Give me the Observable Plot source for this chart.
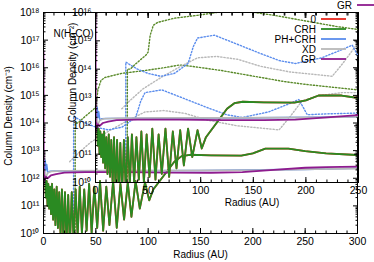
<!DOCTYPE html>
<html><head><meta charset="utf-8">
<script src="https://cdn.jsdelivr.net/npm/d3@7"></script>
<script src="https://cdn.jsdelivr.net/npm/@observablehq/plot@0.6"></script>
<style>
body{margin:0;background:#fff;font-family:"Liberation Sans",Arial,sans-serif;}
#wrap{position:relative;width:374px;height:262px;overflow:hidden;background:#fff}
#wrap > svg, #wrap > figure{position:absolute;left:0;top:0;margin:0}
</style></head><body><div id="wrap"></div>
<script>
// ---- data: radius (AU) and log10 of the column density ----
const grR  = [0, 0.3, 0.8, 1.5, 2.5, 4, 7, 12, 20, 40, 80, 120, 160, 190, 220, 250, 270, 300];
const grV  = [16.6, 11.8, 12.1, 11.95, 12.05, 12.0, 12.1, 12.15, 12.2, 12.22, 12.22, 12.2, 12.2, 12.22, 12.3, 12.38, 12.4, 12.42];
const xdR  = [0, 1, 2, 4, 8, 20, 60, 120, 180, 220, 260, 300];
const xdV  = [12.1, 12.3, 12.0, 12.2, 12.25, 12.27, 12.28, 12.28, 12.29, 12.3, 12.33, 12.35];
const phR  = [0, 0.5, 1, 1.6, 2.2, 3, 4, 6, 10, 50, 150, 250, 300];
const phV  = [12.0, 12.6, 12.2, 12.65, 12.3, 12.5, 12.2, 12.25, 12.26, 12.27, 12.28, 12.32, 12.36];
const crhR = [1.5, 2.2, 3, 3.8, 4.6, 5.4, 6.3, 7.2, 8.2, 9.2, 10.3, 11.4, 12.6, 13.8, 15, 16.3, 17.6, 19, 20.5, 22, 23.6, 25.2, 27, 28.8, 30.7, 32.6, 34.6, 36.7, 38.9, 41.2, 43.6, 46, 48.6, 51.3, 54, 57, 60, 63, 66.5, 70, 73.5, 77, 80.5, 84, 88, 92, 97, 101, 105, 111, 117, 125, 132, 140, 160, 189, 200, 212, 234, 250, 270, 300];
const crhV = [12.0, 11.3, 11.9, 11.0, 11.8, 10.9, 11.7, 10.7, 11.8, 10.5, 11.6, 10.3, 11.7, 10.2, 11.5, 9.9, 11.6, 9.8, 11.5, 9.6, 11.4, 9.5, 11.5, 9.7, 11.6, 9.9, 11.7, 10.0, 11.6, 10.1, 11.8, 10.0, 11.7, 10.2, 11.9, 10.1, 11.7, 10.3, 11.9, 10.2, 11.8, 10.5, 11.85, 10.6, 11.9, 10.9, 11.85, 11.2, 11.6, 11.9, 12.2, 12.6, 12.8, 12.85, 12.83, 12.82, 12.9, 13.07, 13.07, 12.98, 12.9, 12.84];
const zeroR = crhR;
const zeroV = crhV;
const crhDotR = [30, 30.3, 33, 38, 48, 50, 52, 55, 59, 75, 97, 115, 130, 142, 170, 200, 230, 250, 275, 300];
const crhDotV = [5, 14.0, 14.0, 14.18, 14.5, 14.6, 15.2, 15.55, 15.65, 15.8, 15.9, 16.0, 16.1, 16.05, 15.9, 15.7, 15.5, 15.4, 15.3, 15.2];
const phDotR = [28.5, 28.8, 33, 40, 50, 62, 75, 88, 93, 97, 105, 113, 130, 157, 175, 190, 215, 235, 244, 252, 270, 300];
const phDotV = [5, 14.25, 14.15, 14.0, 13.85, 13.75, 13.85, 14.2, 14.8, 15.1, 15.15, 15.2, 14.95, 14.55, 14.3, 14.2, 14.4, 14.7, 14.85, 14.3, 14.33, 14.36];
const xdDotR = [25, 33, 45, 62, 81, 97, 115, 135, 157, 185, 212, 225, 235, 247, 265, 285, 300];
const xdDotV = [12.6, 12.9, 13.3, 13.7, 14.1, 14.4, 14.45, 14.35, 14.1, 13.9, 13.8, 13.75, 14.2, 14.8, 15.0, 15.1, 15.1];

const legendNames = ["0", "CRH", "PH+CRH", "XD", "GR"];
const mainXTicks = [0, 50, 100, 150, 200, 250, 300];
const insetXTicks = [0, 50, 100, 150, 200, 250];

const C = {red: "#e8281e", green: "#2a8a22", blue: "#5b8ded", gray: "#b8b8b8", purple: "#8e1b8e", greenDot: "#5a8a2a"};

const rows = (r, v) => r.map((x, i) => ({r: x, n: Math.pow(10, v[i])}));
const SUP = {"0":"⁰","1":"¹","2":"²","3":"³","4":"⁴","5":"⁵","6":"⁶","7":"⁷","8":"⁸","9":"⁹","-":"⁻"};
const fmt = d => "10" + String(Math.round(Math.log10(d))).split("").map(c => SUP[c]).join("");
const decades = (a, b) => d3.range(a, b + 1).map(e => Math.pow(10, e));
const minors = (a, b) => d3.range(a, b).flatMap(e => d3.range(2, 10).map(m => m * Math.pow(10, e)));

function seriesMarks() {
  const dot = {strokeWidth: 1.4, strokeDasharray: "1.3,1.9", clip: true};
  return [
    Plot.line(rows(xdDotR, xdDotV), {x: "r", y: "n", stroke: C.gray, ...dot}),
    Plot.line(rows(phDotR, phDotV), {x: "r", y: "n", stroke: C.blue, ...dot}),
    Plot.line(rows(crhDotR, crhDotV), {x: "r", y: "n", stroke: C.greenDot, ...dot}),
    Plot.line(rows(zeroR, zeroV), {x: "r", y: "n", stroke: C.red, strokeWidth: 1.8, clip: true}),
    Plot.line(rows(crhR, crhV), {x: "r", y: "n", stroke: C.green, strokeWidth: 1.8, clip: true}),
    Plot.line(rows(phR, phV), {x: "r", y: "n", stroke: C.blue, strokeWidth: 1.6, clip: true}),
    Plot.line(rows(xdR, xdV), {x: "r", y: "n", stroke: C.gray, strokeWidth: 1.6, clip: true}),
    Plot.line(rows(grR, grV), {x: "r", y: "n", stroke: C.purple, strokeWidth: 1.8, clip: true})
  ];
}

function axisMarks(xt, xMinor, yLo, yHi) {
  const none = {label: null, fill: "none"};
  return [
    Plot.axisX({ticks: xt, tickSize: 0, tickPadding: 4, tickFormat: d => d, label: null}),
    Plot.axisX({ticks: xt, tickSize: -5, ...none}),
    Plot.axisX({ticks: xMinor, tickSize: -2.5, ...none}),
    Plot.axisX({anchor: "top", ticks: xt, tickSize: -5, ...none}),
    Plot.axisX({anchor: "top", ticks: xMinor, tickSize: -2.5, ...none}),
    Plot.axisY({ticks: decades(yLo, yHi), tickSize: 0, tickPadding: 4, tickFormat: fmt, label: null}),
    Plot.axisY({ticks: decades(yLo, yHi), tickSize: -5, ...none}),
    Plot.axisY({ticks: minors(yLo, yHi), tickSize: -2.5, ...none}),
    Plot.axisY({anchor: "right", ticks: decades(yLo, yHi), tickSize: -5, ...none}),
    Plot.axisY({anchor: "right", ticks: minors(yLo, yHi), tickSize: -2.5, ...none}),
    Plot.frame({stroke: "#000", strokeWidth: 1})
  ];
}

const style = {fontFamily: "'Liberation Sans', Arial, sans-serif", fontSize: "10.5px", background: "transparent", color: "#000", overflow: "visible"};

const main = Plot.plot({
  width: 374, height: 262, marginLeft: 43, marginRight: 17, marginTop: 12, marginBottom: 29,
  style,
  x: {domain: [0, 300]},
  y: {type: "log", domain: [1e10, 1e18]},
  marks: [
    ...seriesMarks(),
    ...axisMarks(mainXTicks, d3.range(0, 301, 10), 10, 18),
    Plot.text(["Radius (AU)"], {frameAnchor: "bottom", dy: 24, fontSize: 10}),
    Plot.text(["Column Density (cm⁻³)"], {frameAnchor: "left", textAnchor: "middle", dx: -35, dy: -7, rotate: -90, fontSize: 10})
  ]
});

const inset = Plot.plot({
  width: 374, height: 262, marginLeft: 95, marginRight: 16, marginTop: 12, marginBottom: 80,
  style,
  x: {domain: [0, 250]},
  y: {type: "log", domain: [1e10, 1e16]},
  marks: [
    ...seriesMarks(),
    ...axisMarks(insetXTicks, d3.range(0, 251, 10), 10, 16),
    Plot.text(["Radius (AU)"], {frameAnchor: "bottom", dx: 25, dy: 23, fontSize: 10}),
    Plot.text(["Column Density (cm⁻²)"], {frameAnchor: "left", textAnchor: "middle", dx: -23, dy: -25, rotate: -90, fontSize: 10}),
    Plot.text(["N(H₂CO)"], {frameAnchor: "top-left", textAnchor: "middle", dx: -22, dy: 17, fontSize: 10})
  ]
});

const wrap = document.getElementById("wrap");
wrap.appendChild(main);
wrap.appendChild(inset);

// legend
const leg = d3.create("svg").attr("width", 374).attr("height", 262)
  .style("font-family", "'Liberation Sans', Arial, sans-serif").style("font-size", "10px");
const legColors = [C.red, C.green, C.blue, C.gray, C.purple];
legendNames.forEach((name, i) => {
  const y = 19 + i * 10;
  leg.append("text").attr("x", 316).attr("y", y).attr("dy", "0.35em").attr("text-anchor", "end").text(name);
  leg.append("line").attr("x1", 321).attr("x2", 346).attr("y1", y).attr("y2", y)
    .attr("stroke", legColors[i]).attr("stroke-width", 1.8);
});
leg.append("text").attr("x", 352).attr("y", 5).attr("dy", "0.35em").attr("text-anchor", "end").text("GR");
leg.append("line").attr("x1", 357).attr("x2", 374).attr("y1", 5).attr("y2", 5).attr("stroke", C.purple).attr("stroke-width", 1.8);
wrap.appendChild(leg.node());
</script></body></html>
